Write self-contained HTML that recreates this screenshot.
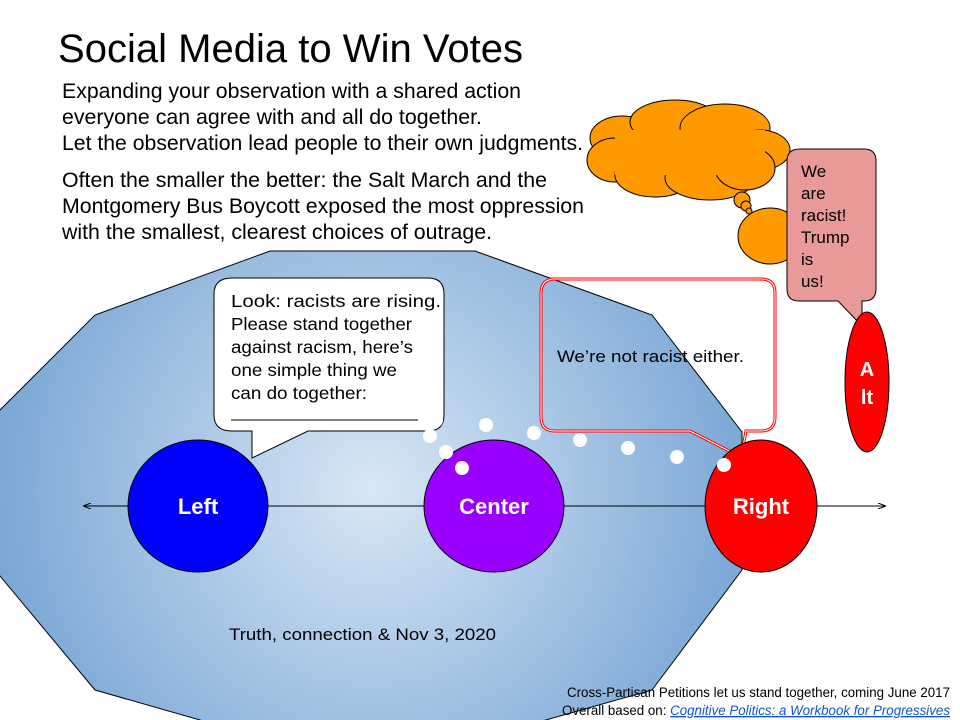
<!DOCTYPE html>
<html><head><meta charset="utf-8"><style>
html,body{margin:0;padding:0;background:#fff;}
svg{display:block;font-family:"Liberation Sans",Arial,sans-serif;}
</style></head><body>
<svg width="960" height="720" viewBox="0 0 960 720" xmlns="http://www.w3.org/2000/svg">
<defs>
<radialGradient id="g" cx="372" cy="490" r="380" gradientUnits="userSpaceOnUse">
<stop offset="0" stop-color="#d9e7f5"/><stop offset="1" stop-color="#7aa7d6"/>
</radialGradient>
<marker id="ar" markerWidth="8" markerHeight="6" refX="7" refY="3" orient="auto"><path d="M0,0 L8,3 L0,6" fill="none" stroke="#000" stroke-width="1"/></marker>
<marker id="al" markerWidth="8" markerHeight="6" refX="1" refY="3" orient="auto"><path d="M8,0 L0,3 L8,6" fill="none" stroke="#000" stroke-width="1"/></marker>
</defs>
<text x="58" y="62" font-size="40" textLength="465" lengthAdjust="spacingAndGlyphs">Social Media to Win Votes</text>
<g font-size="21">
<text x="62" y="98" textLength="459" lengthAdjust="spacingAndGlyphs">Expanding your observation with a shared action</text>
<text x="62" y="124" textLength="420" lengthAdjust="spacingAndGlyphs">everyone can agree with and all do together.</text>
<text x="62" y="150" textLength="521" lengthAdjust="spacingAndGlyphs">Let the observation lead people to their own judgments.</text>
<text x="62" y="187" textLength="485" lengthAdjust="spacingAndGlyphs">Often the smaller the better: the Salt March and the</text>
<text x="62" y="213" textLength="522" lengthAdjust="spacingAndGlyphs">Montgomery Bus Boycott exposed the most oppression</text>
<text x="62" y="239" textLength="430" lengthAdjust="spacingAndGlyphs">with the smallest, clearest choices of outrage.</text>
</g>
<polygon points="270,251 475,251 652,315 742,432 742,570 652,690 475,740 270,740 95,690 -5,570 -5,415 95,315" fill="url(#g)" stroke="#000" stroke-width="1"/>
<!-- cloud -->
<g fill="#f90" stroke="#000" stroke-width="1">
<ellipse cx="622" cy="138" rx="32" ry="22"/><ellipse cx="675" cy="122" rx="45" ry="22"/><ellipse cx="725" cy="128" rx="45" ry="24"/><ellipse cx="760" cy="150" rx="30" ry="20"/>
<ellipse cx="615" cy="160" rx="28" ry="22"/><ellipse cx="655" cy="175" rx="40" ry="22"/><ellipse cx="710" cy="178" rx="45" ry="22"/><ellipse cx="745" cy="168" rx="30" ry="22"/>
<rect x="615" y="130" width="150" height="45" stroke="none"/>
<circle cx="742" cy="200" r="8"/><circle cx="746" cy="206" r="5"/><circle cx="749" cy="211" r="3"/>
<ellipse cx="770" cy="236" rx="32" ry="28"/>
</g>
<!-- pink bubble -->
<path d="M800,149 H864 Q876,149 876,161 V289 Q876,301 864,301 H862 V326 L838,301 H799 Q787,301 787,289 V161 Q787,149 800,149 Z" fill="#ea9999" stroke="#000" stroke-width="1"/>
<g font-size="17"><text x="801" y="177">We</text><text x="801" y="199">are</text><text x="801" y="221">racist!</text><text x="801" y="243">Trump</text><text x="801" y="265">is</text><text x="801" y="287">us!</text></g>
<ellipse cx="867" cy="382" rx="22" ry="70" fill="#f00" stroke="#000"/>
<g font-size="20" font-weight="bold" fill="#fff" text-anchor="middle"><text x="867" y="376">A</text><text x="867" y="404">lt</text></g>
<!-- axis -->
<line x1="84" y1="506" x2="885" y2="506" stroke="#000" stroke-width="1" marker-start="url(#al)" marker-end="url(#ar)"/>
<!-- right bubble -->
<path d="M555,279 H761 Q775,279 775,293 V417 Q775,431 761,431 H746 L741,457 L690,431 H555 Q541,431 541,417 V293 Q541,279 555,279 Z" fill="none" stroke="#f00" stroke-width="3"/>
<path d="M555,279 H761 Q775,279 775,293 V417 Q775,431 761,431 H746 L741,457 L690,431 H555 Q541,431 541,417 V293 Q541,279 555,279 Z" fill="none" stroke="#fff" stroke-width="1"/>
<text x="557" y="362" font-size="17" textLength="187" lengthAdjust="spacingAndGlyphs">We’re not racist either.</text>
<!-- left bubble -->
<path d="M232,278 H428 Q444,278 444,294 V415 Q444,431 428,431 H308 L252,458 V431 H232 Q214,431 214,415 V294 Q214,278 232,278 Z" fill="#fff" stroke="#000" stroke-width="1"/>
<g font-size="17.5"><text x="231" y="307" textLength="210" lengthAdjust="spacingAndGlyphs">Look: racists are rising.</text><text x="231" y="330" textLength="181" lengthAdjust="spacingAndGlyphs">Please stand together</text><text x="231" y="353" textLength="182" lengthAdjust="spacingAndGlyphs">against racism, here’s</text><text x="231" y="376" textLength="166" lengthAdjust="spacingAndGlyphs">one simple thing we</text><text x="231" y="399" textLength="136" lengthAdjust="spacingAndGlyphs">can do together:</text></g>
<line x1="231" y1="420" x2="418" y2="420" stroke="#000" stroke-width="1"/>
<!-- circles -->
<ellipse cx="198" cy="506" rx="70" ry="66" fill="#00f" stroke="#000"/>
<ellipse cx="494" cy="506" rx="70" ry="66" fill="#90f" stroke="#000"/>
<ellipse cx="761" cy="506" rx="56" ry="66" fill="#f00" stroke="#000"/>
<g font-size="22" font-weight="bold" fill="#fff" text-anchor="middle"><text x="198" y="514">Left</text><text x="494" y="514">Center</text><text x="761" y="514">Right</text></g>
<!-- dots -->
<g fill="#fff"><ellipse cx="437" cy="420" rx="6" ry="7"/><ellipse cx="430" cy="436" rx="7" ry="7"/><ellipse cx="486" cy="425" rx="7" ry="7"/><ellipse cx="534" cy="433" rx="7" ry="7"/><ellipse cx="580" cy="440" rx="7" ry="7"/><ellipse cx="628" cy="448" rx="7" ry="7"/><ellipse cx="677" cy="457" rx="7" ry="7"/><ellipse cx="724" cy="465" rx="7" ry="7"/><ellipse cx="446" cy="452" rx="7" ry="7"/><ellipse cx="462" cy="468" rx="7" ry="7"/></g>
<text x="229" y="640" font-size="17" textLength="267" lengthAdjust="spacingAndGlyphs">Truth, connection &amp; Nov 3, 2020</text>
<g font-size="13.5"><text x="567" y="697" textLength="383" lengthAdjust="spacingAndGlyphs">Cross-Partisan Petitions let us stand together, coming June 2017</text>
<text x="562" y="715" textLength="388" lengthAdjust="spacingAndGlyphs">Overall based on: <tspan fill="#1155cc" font-style="italic" text-decoration="underline">Cognitive Politics: a Workbook for Progressives</tspan></text></g>
</svg>
</body></html>
